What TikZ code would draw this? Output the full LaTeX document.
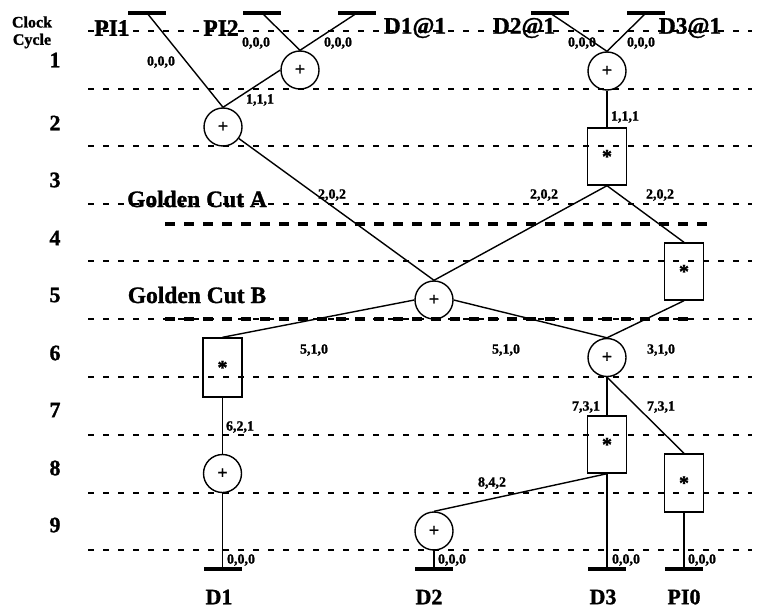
\documentclass[tikz,border=0pt]{standalone}
\usepackage{fontspec}
\setmainfont{Liberation Serif}[BoldFeatures={FakeBold=1.2}]
\begin{document}
\begin{tikzpicture}[x=1pt,y=-1pt,
  gridline/.style={line width=1.3pt, dash pattern=on 6pt off 9pt},
  cutline/.style={line width=4.5pt, dash pattern=on 10pt off 9pt},
  wire/.style={line width=1.4pt},
  addn/.style={circle, draw, line width=1.4pt, minimum size=38pt, inner sep=0pt, font=\fontsize{18}{18}\selectfont\bfseries},
  muln/.style={rectangle, draw, line width=1.4pt, minimum width=39pt, minimum height=57pt, inner sep=0pt, font=\fontsize{20}{20}\selectfont\bfseries},
  bar/.style={rectangle, fill=black, minimum width=38pt, minimum height=4.5pt, inner sep=0pt},
  lab/.style={font=\fontsize{14}{14}\selectfont\bfseries, inner sep=0pt},
  big/.style={font=\fontsize{23.5}{23.5}\selectfont\bfseries, inner sep=0pt},
  num/.style={font=\fontsize{22}{22}\selectfont\bfseries, inner sep=0pt},
  small/.style={font=\fontsize{16}{16}\selectfont\bfseries, inner sep=0pt}
]
\useasboundingbox (0,0) rectangle (759,610);
% grid lines
\foreach \yy in {31,89,146,204,261,319,377,435,493,550}
  \draw[gridline] (88,\yy) -- (752,\yy);
% golden cuts
\draw[cutline] (165,224) -- (713,224);
\draw[cutline] (165,319) -- (693,319);
% clock cycle labels
\node[small] (clk) at (32,22) {Clock};
\node[small] (cyc) at (32,41) {Cycle};
\node[num] (n1) at (55,60) {1};
\node[num] (n2) at (55,123) {2};
\node[num] (n3) at (55,180) {3};
\node[num] (n4) at (55,238) {4};
\node[num] (n5) at (55,295) {5};
\node[num] (n6) at (55,353) {6};
\node[num] (n7) at (55,410) {7};
\node[num] (n8) at (55,468) {8};
\node[num] (n9) at (55,525) {9};
% top labels
\node[big] (tPI1) at (112,28) {PI1};
\node[big] (tPI2) at (221,28) {PI2};
\node[big] (tD1) at (415,28) {D1@1};
\node[big] (tD2) at (524,28) {D2@1};
\node[big] (tD3) at (690,28) {D3@1};
\node[big] (gA) at (197,199) {Golden Cut A};
\node[big] (gB) at (197,295) {Golden Cut B};
% bottom labels
\node[num] (oD1) at (219,597) {D1};
\node[num] (oD2) at (429,597) {D2};
\node[num] (oD3) at (603,597) {D3};
\node[num] (oPI0) at (684,597) {PI0};
% input bars
\node[bar] (b1) at (147,13) {};
\node[bar] (b2) at (262,13) {};
\node[bar] (b3) at (357,13) {};
\node[bar] (b4) at (550,13) {};
\node[bar] (b5) at (646,13) {};
% output bars
\node[bar] (e1) at (222.5,569) {};
\node[bar] (e2) at (434,569) {};
\node[bar] (e3) at (607,569) {};
\node[bar] (e4) at (684,569) {};
% operators
\node[addn] (c1) at (300,70) {+};
\node[addn] (c2) at (223,127) {+};
\node[addn] (c3) at (607,71) {+};
\node[muln] (r1) at (607,156.5) {\raisebox{-4pt}{*}};
\node[muln] (r2) at (684,271.5) {\raisebox{-4pt}{*}};
\node[addn] (c4) at (434,300) {+};
\node[muln, minimum height=59pt] (r3) at (222.5,367.5) {\raisebox{-4pt}{*}};
\node[addn] (c5) at (607,357.5) {+};
\node[addn] (c6) at (222.5,473.5) {+};
\node[muln] (r4) at (607,444.5) {\raisebox{-4pt}{*}};
\node[muln, minimum height=58pt] (r5) at (684,483) {\raisebox{-4pt}{*}};
\node[addn] (c7) at (434,531) {+};
% connectors
\draw[wire] (b1.center) -- (c2.north);
\draw[wire] (b2.center) -- (c1.north);
\draw[wire] (b3.center) -- (c1.north);
\draw[wire] (c1.west) -- (c2.north);
\draw[wire] (b4.center) -- (c3.north);
\draw[wire] (b5.center) -- (c3.north);
\draw[wire] (c3.south) -- (r1.north);
\draw[wire] (c2) -- (c4.north);
\draw[wire] (r1.south) -- (c4.north);
\draw[wire] (r1.south) -- (r2.north);
\draw[wire] (c4.west) -- (r3.north);
\draw[wire] (c4.east) -- (c5.north);
\draw[wire] (r2.south) -- (c5.north);
\draw[wire] (r3.south) -- (c6.north);
\draw[wire] (c6.south) -- (e1.center);
\draw[wire] (c5.south) -- (r4.north);
\draw[wire] (c5.south) -- (r5.north);
\draw[wire] (r4.south) -- (e3.center);
\draw[wire] (r4.south) -- (c7.north);
\draw[wire] (c7.south) -- (e2.center);
\draw[wire] (r5.south) -- (e4.center);
% edge labels
\node[lab] (l1) at (161,62) {0,0,0};
\node[lab] (l2) at (256,43) {0,0,0};
\node[lab] (l3) at (338,43) {0,0,0};
\node[lab] (l4) at (260,100) {1,1,1};
\node[lab] (l5) at (582,43) {0,0,0};
\node[lab] (l6) at (641,43) {0,0,0};
\node[lab] (l7) at (625,117) {1,1,1};
\node[lab] (l8) at (332,195) {2,0,2};
\node[lab] (l9) at (544,195) {2,0,2};
\node[lab] (l10) at (660,195) {2,0,2};
\node[lab] (l11) at (314,350) {5,1,0};
\node[lab] (l12) at (506,350) {5,1,0};
\node[lab] (l13) at (661,350) {3,1,0};
\node[lab] (l14) at (240,427) {6,2,1};
\node[lab] (l15) at (586,407) {7,3,1};
\node[lab] (l16) at (661,407) {7,3,1};
\node[lab] (l17) at (492,483) {8,4,2};
\node[lab] (l18) at (241,560) {0,0,0};
\node[lab] (l19) at (452,560) {0,0,0};
\node[lab] (l20) at (626,560) {0,0,0};
\node[lab] (l21) at (702,560) {0,0,0};
\end{tikzpicture}
\end{document}
